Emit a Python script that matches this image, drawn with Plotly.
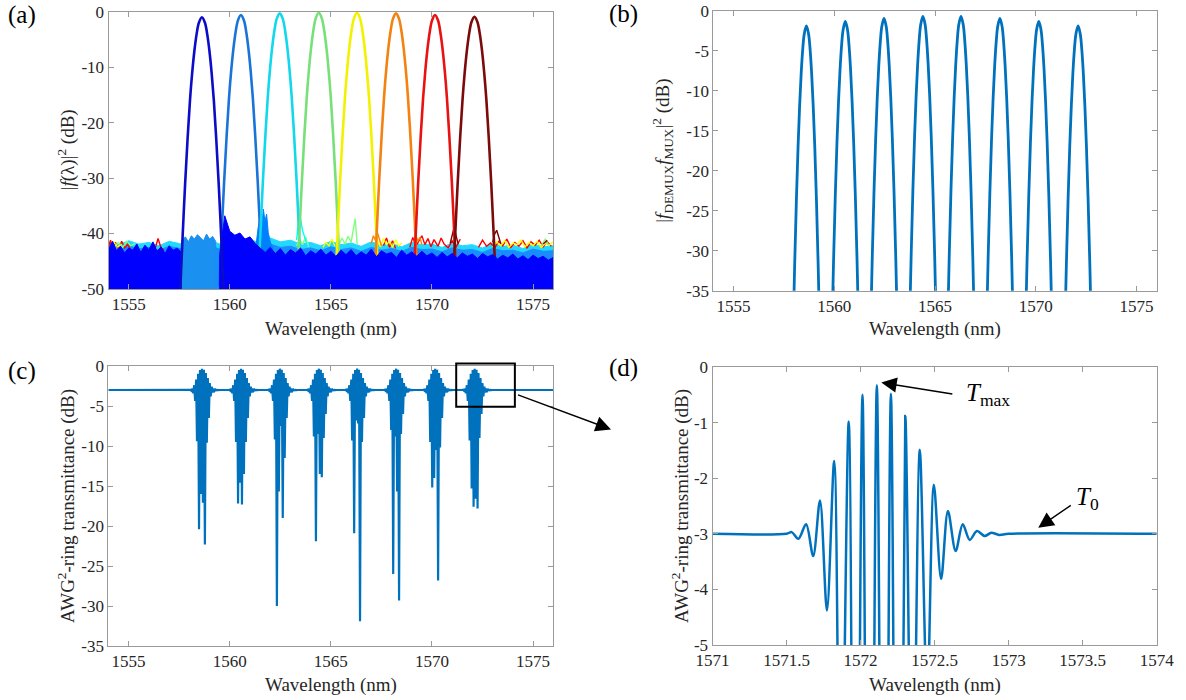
import plotly.graph_objects as go

# ---------------- data ----------------
WL_RANGE = [1554, 1576]
WL_TICKS = [1555, 1560, 1565, 1570, 1575]
ZOOM_RANGE = [1571, 1574]
ZOOM_TICKS = [1571, 1571.5, 1572, 1572.5, 1573, 1573.5, 1574]
A_YTICKS = [0, -10, -20, -30, -40, -50]
BC_YTICKS = [0, -5, -10, -15, -20, -25, -30, -35]
D_YTICKS = [0, -1, -2, -3, -4, -5]

CHANNEL_CENTERS = [1558.62, 1560.55, 1562.47, 1564.40, 1566.29, 1568.22, 1570.15, 1572.10]
JET8 = ['#0000ff', '#0080ff', '#00ffff', '#80ff80', '#ffff00', '#ff8000', '#ff0000', '#800000']
PEAK_LINE_COLORS = ['#0c0cc8', '#1a74d8', '#12d8ec', '#78e078', '#f2f200', '#f48212', '#e81212', '#7c0a0a']

# (a) single-channel spectra (peak tops and common profile: drop below top vs half width)
A_PEAK_TOPS = [-1.0, -0.6, -0.3, -0.2, -0.2, -0.3, -0.6, -0.9]
A_PROFILE_DROP = [0, 1, 3, 6, 10, 15, 22, 30, 40, 49]
A_PROFILE_HALF = [0, 0.15, 0.26, 0.37, 0.48, 0.59, 0.71, 0.83, 0.96, 1.07]

# (a) noise floor
BLUE_LEFT_X = [1554.0, 1554.2, 1554.4, 1554.6, 1554.8, 1555.0, 1555.2, 1555.4, 1555.6, 1555.8,
               1556.0, 1556.2, 1556.4, 1556.6, 1556.8, 1557.0, 1557.2, 1557.4, 1557.6]
BLUE_LEFT_Y = [-42.8, -41.4, -43.1, -42.3, -43.5, -42.6, -43.0, -41.9, -43.4, -42.1,
               -42.9, -41.5, -43.2, -42.4, -43.6, -42.2, -43.0, -42.6, -43.4]
BLUE_RIGHT_X = [1559.50, 1559.75, 1560.00, 1560.25, 1560.50, 1560.75, 1561.00, 1561.25, 1561.50, 1561.75,
                1562.00, 1562.25, 1562.50, 1562.75, 1563.00, 1563.25, 1563.50, 1563.75, 1564.00, 1564.25,
                1564.50, 1564.75, 1565.00, 1565.25, 1565.50, 1565.75, 1566.00, 1566.25, 1566.50, 1566.75,
                1567.00, 1567.25, 1567.50, 1567.75, 1568.00, 1568.25, 1568.50, 1568.75, 1569.00, 1569.25,
                1569.50, 1569.75, 1570.00, 1570.25, 1570.50, 1570.75, 1571.00, 1571.25, 1571.50, 1571.75,
                1572.00, 1572.25, 1572.50, 1572.75, 1573.00, 1573.25, 1573.50, 1573.75, 1574.00, 1574.25,
                1574.50, 1574.75, 1575.00, 1575.25, 1575.50, 1575.75, 1576.00]
BLUE_RIGHT_Y = [-43.8, -36.8, -39.6, -40.3, -39.9, -41.0, -40.6, -41.8, -42.6, -43.4,
                -42.5, -43.6, -42.7, -43.9, -42.9, -43.5, -42.6, -44.0, -43.1, -43.7,
                -42.8, -43.9, -43.2, -44.1, -43.0, -43.8, -42.9, -44.0, -43.3, -43.9,
                -42.8, -44.2, -43.1, -43.7, -43.4, -44.3, -43.0, -43.9, -43.3, -44.1,
                -43.2, -44.0, -43.5, -44.3, -43.4, -44.2, -43.6, -44.4, -43.5, -44.1,
                -43.7, -44.5, -43.6, -44.2, -43.8, -44.6, -43.9, -44.4, -43.7, -44.6,
                -44.0, -44.7, -43.9, -44.5, -44.1, -44.8, -44.3]
AZURE_BLOCK_X = [1557.65, 1557.80, 1557.95, 1558.10, 1558.25, 1558.40, 1558.55, 1558.70, 1558.85, 1559.00, 1559.15, 1559.30]
AZURE_BLOCK_Y = [-41.2, -40.6, -41.5, -40.4, -41.0, -40.2, -40.8, -41.3, -40.1, -41.0, -40.5, -41.4]
FRINGE_X = [1554.0, 1554.5, 1555.0, 1555.5, 1556.0, 1556.5, 1557.0, 1557.5, 1558.0, 1558.5, 1559.0,
            1559.5, 1560.0, 1560.5, 1561.0, 1561.5, 1562.0, 1562.5, 1563.0, 1563.5, 1564.0, 1564.5,
            1565.0, 1565.5, 1566.0, 1566.5, 1567.0, 1567.5, 1568.0, 1568.5, 1569.0, 1569.5, 1570.0,
            1570.5, 1571.0, 1571.5, 1572.0, 1572.5, 1573.0, 1573.5, 1574.0, 1574.5, 1575.0, 1575.5, 1576.0]
CYAN_TOP = [-41.5, -42.0, -41.3, -41.9, -41.6, -42.2, -41.4, -41.8, -42.3, -41.7, -41.2,
            -41.9, -41.5, -42.1, -41.0, -41.8, -40.8, -41.5, -41.2, -41.9, -41.6, -42.2,
            -41.4, -42.0, -41.7, -42.3, -41.5, -42.1, -41.8, -42.4, -41.6, -42.0, -41.9,
            -42.5, -41.7, -42.2, -42.0, -42.6, -41.8, -42.3, -42.1, -42.7, -41.9, -42.4, -42.2]
AZURE_TOP = [-42.4, -42.9, -42.2, -42.8, -42.5, -43.0, -42.3, -42.7, -42.9, -42.4, -42.2,
             -42.8, -42.4, -43.0, -42.1, -42.7, -41.9, -42.5, -42.3, -42.9, -42.6, -43.1,
             -42.4, -42.9, -42.6, -43.2, -42.5, -43.0, -42.7, -43.2, -42.5, -42.9, -42.8,
             -43.3, -42.6, -43.0, -42.9, -43.4, -42.7, -43.1, -43.0, -43.5, -42.8, -43.2, -43.1]
SPIKES = {
    '#ff0000': ([1554.0, 1554.1, 1554.2, 1554.35, 1554.5, 1554.65, 1554.8, 1554.95, 1555.1, None,
                 1556.3, 1556.45, 1556.6, 1556.75, None,
                 1567.6, 1567.75, 1567.9, 1568.05, 1568.2, None,
                 1568.9, 1569.05, 1569.2, 1569.35, 1569.5, 1569.65, 1569.8, 1569.95, 1570.1, 1570.3,
                 1570.45, 1570.6, 1570.8, 1571.0, 1571.2, 1571.4, None,
                 1572.3, 1572.5, 1572.7, 1572.9, 1573.1, 1573.3, 1573.5, 1573.7, 1573.9, 1574.1,
                 1574.3, 1574.5, 1574.7, 1574.9, 1575.1, 1575.3, 1575.5, 1575.7, 1575.9],
                [-42.5, -41.2, -42.8, -41.6, -42.9, -41.4, -42.6, -41.9, -43.0, None,
                 -42.8, -40.9, -42.6, -43.0, None,
                 -42.2, -40.8, -42.5, -41.3, -42.7, None,
                 -42.5, -40.7, -42.3, -41.2, -40.4, -42.0, -40.9, -42.4, -41.1, -42.3,
                 -40.8, -41.9, -42.6, -41.3, -42.4, -41.0, None,
                 -42.5, -41.2, -42.3, -41.7, -42.6, -41.4, -42.2, -41.0, -42.5, -41.6,
                 -42.3, -41.3, -42.6, -41.5, -42.1, -41.2, -42.4, -41.5, -42.3]),
    '#ffff00': ([1554.05, 1554.25, 1554.45, 1554.65, None,
                 1564.6, 1564.75, 1564.9, 1565.05, 1565.2, None,
                 1567.3, 1567.45, 1567.6, 1567.75, 1567.9, 1568.05, 1568.2, 1568.35, 1568.5, None,
                 1573.0, 1573.2, 1573.4, 1573.6, 1573.8, 1574.0, 1574.2, 1574.4, 1574.6, 1574.8,
                 1575.0, 1575.2, 1575.4, 1575.6, 1575.8, 1576.0],
                [-42.6, -41.5, -42.4, -41.9, None,
                 -42.5, -41.6, -42.2, -41.0, -42.3, None,
                 -41.2, -42.4, -40.9, -42.0, -41.4, -42.5, -41.1, -42.2, -41.7, None,
                 -42.4, -41.5, -42.2, -41.3, -42.5, -41.7, -42.0, -41.2, -42.4, -41.6,
                 -42.2, -41.4, -42.5, -41.8, -42.1, -41.5]),
    '#80ff80': ([1554.3, 1554.5, 1554.7, 1554.9, 1555.1, 1555.3, None,
                 1563.3, 1563.45, 1563.6, 1563.75, 1563.9, None,
                 1565.4, 1565.55, 1565.7, 1565.85, 1566.0, 1566.1, 1566.2, 1566.3, None,
                 1575.4, 1575.6, 1575.8],
                [-42.3, -41.6, -42.5, -41.4, -42.2, -41.8, None,
                 -42.2, -41.0, -42.0, -40.6, -42.4, None,
                 -42.0, -40.8, -41.9, -40.5, -41.6, -39.6, -37.3, -42.0, None,
                 -42.2, -41.0, -42.3]),
    '#ff8000': ([1567.0, 1567.1, 1567.2, 1567.3, 1567.4, 1567.5, None,
                 1569.1, 1569.2, 1569.3, 1569.4, 1569.5],
                [-41.8, -40.4, -41.2, -39.8, -41.0, -42.2, None,
                 -41.6, -40.3, -41.4, -40.7, -42.0]),
    '#800000': ([1570.9, 1571.0, 1571.1, 1571.2, 1571.3, None,
                 1573.0, 1573.1, 1573.2, 1573.3, 1573.4, None, 1575.5, 1575.7],
                [-41.8, -40.2, -38.8, -40.5, -41.9, None,
                 -41.6, -40.1, -39.4, -40.6, -41.8, None, -41.9, -41.2]),
    '#00ffff': ([1561.5, 1561.6, 1561.7, 1561.8, None,
                 1563.3, 1563.4, 1563.5, 1563.6, 1563.7, 1563.8],
                [-41.5, -40.2, -41.0, -42.0, None,
                 -41.2, -38.0, -37.4, -39.5, -40.6, -41.8]),
}
AZURE_SPIKE_X = [1561.3, 1561.4, 1561.5, 1561.58, 1561.66, 1561.74, 1561.82, 1561.9, 1562.0, 1562.1]
AZURE_SPIKE_Y = [-42.0, -39.0, -36.8, -38.5, -35.6, -37.8, -36.5, -39.8, -41.5, -42.4]

# (b) DEMUX x MUX responses
B_PEAK_TOPS = [-1.9, -1.35, -0.95, -0.7, -0.7, -0.95, -1.35, -1.9]
B_PROFILE_DROP = [0, 1, 3, 6, 10, 15, 22, 30, 40]
B_PROFILE_HALF = [0, 0.107, 0.185, 0.261, 0.337, 0.413, 0.50, 0.584, 0.674]

# (c)/(d) AWG^2-ring transmittance: ripple extrema read from (d) (channel 8),
# None marks a deep trough whose depth is given per channel below
BASELINE_DB = -3.0
RIPPLE_X = [1571.500, 1571.535, 1571.580, 1571.632, 1571.680, 1571.726, 1571.773, 1571.822,
            1571.865, 1571.920, 1571.965, 1572.013, 1572.060, 1572.110, 1572.158, 1572.205,
            1572.255, 1572.302, 1572.350, 1572.400, 1572.450, 1572.495, 1572.544, 1572.590,
            1572.642, 1572.690, 1572.737, 1572.786, 1572.838, 1572.883, 1572.935, 1573.000]
RIPPLE_Y = [-3.00, -2.97, -3.09, -2.83, -3.40, -2.40, -4.38, -1.69,
            None, -0.98, None, -0.50, None, -0.33, None, -0.48,
            None, -0.88, None, -1.49, None, -2.12, -3.81, -2.59,
            -3.31, -2.83, -3.11, -2.95, -3.04, -2.98, -3.02, -3.00]
C_TROUGHS = [
    [-9.4, -20.4, -16.0, -17.1, -22.3, -9.6, -6.5],
    [-9.5, -17.2, -14.6, -17.3, -13.5, -9.5, -6.5],
    [-9.2, -30.0, -15.7, -7.5, -19.0, -11.5, -6.5],
    [-8.8, -21.9, -8.5, -13.5, -13.9, -9.0, -6.0],
    [-9.3, -20.9, -6.8, -7.2, -31.9, -9.5, -6.5],
    [-8.0, -26.0, -8.8, -15.7, -29.3, -8.5, -6.0],
    [-9.5, -15.2, -14.0, -10.5, -26.8, -10.2, -6.5],
    [-9.3, -15.3, -17.6, -16.6, -17.8, -9.0, -6.0],
]
ZOOM_BOX = [1571.2, 1574.1, -5.1, 0.3]   # rectangle drawn in (c)

# ---------------- layout constants (pixels of the 1186x700 page) ----------------
W, H = 1186, 700
FONT = "Liberation Serif, Times New Roman, Tinos, DejaVu Serif, Noto Serif, serif"
TXT = '#262626'
AXC = '#9a9a9a'
MATLAB_BLUE = '#0072bd'
PANELS = {  # x0, x1, ytop, ybottom in page pixels
    'a': (108.5, 553.3, 11.7, 289.0),
    'b': (713.3, 1156.7, 10.7, 290.7),
    'c': (108.3, 553.3, 366.0, 646.0),
    'd': (712.5, 1156.7, 367.0, 645.0),
}


def px(x):
    return x / W


def py(y):
    return 1 - y / H


def peak_xy(center, top, drops, halves):
    xs = [center - h for h in halves[::-1]] + [center + h for h in halves[1:]]
    ys = [top - d for d in drops[::-1]] + [top - d for d in drops[1:]]
    return xs, ys


def band(xs, ys, floor):
    return [xs[0]] + list(xs) + [xs[-1]], [floor] + list(ys) + [floor]


def burst(shift, troughs):
    xs, ys, k = [], [], 0
    for x, y in zip(RIPPLE_X, RIPPLE_Y):
        xs.append(x + shift)
        if y is None:
            ys.append(troughs[k])
            k += 1
        else:
            ys.append(y)
    return xs, ys


fig = go.Figure()
A_FLOOR = -50


def add(trace, ax):
    trace.update(xaxis='x' if ax == 1 else f'x{ax}', yaxis='y' if ax == 1 else f'y{ax}',
                 showlegend=False, hoverinfo='skip')
    fig.add_trace(trace)


# ----- (a) -----
bx, by = band(FRINGE_X, CYAN_TOP, A_FLOOR)
add(go.Scatter(x=bx, y=by, mode='lines', fill='toself', fillcolor='#22d8ff',
               line=dict(color='#22d8ff', width=1)), 1)
bx, by = band(FRINGE_X, AZURE_TOP, A_FLOOR)
add(go.Scatter(x=bx, y=by, mode='lines', fill='toself', fillcolor='#1a8cff',
               line=dict(color='#1a8cff', width=1)), 1)
for col, (sx, sy) in SPIKES.items():
    add(go.Scatter(x=sx, y=sy, mode='lines', line=dict(color=col, width=1.4)), 1)
bx, by = band(AZURE_SPIKE_X, AZURE_SPIKE_Y, A_FLOOR)
add(go.Scatter(x=bx, y=by, mode='lines', fill='toself', fillcolor=JET8[1],
               line=dict(color=JET8[1], width=1)), 1)
for i in range(1, 8):
    xs, ys = peak_xy(CHANNEL_CENTERS[i], A_PEAK_TOPS[i], A_PROFILE_DROP, A_PROFILE_HALF)
    add(go.Scatter(x=xs, y=ys, mode='lines', line=dict(color=PEAK_LINE_COLORS[i], width=2.6, shape='spline')), 1)
lx, ly = band(BLUE_LEFT_X, BLUE_LEFT_Y, A_FLOOR)
rx, ry = band(BLUE_RIGHT_X, BLUE_RIGHT_Y, A_FLOOR)
add(go.Scatter(x=lx + [None] + rx, y=ly + [None] + ry, mode='lines', fill='toself',
               fillcolor=JET8[0], line=dict(color=JET8[0], width=1)), 1)
bx, by = band(AZURE_BLOCK_X, AZURE_BLOCK_Y, A_FLOOR)
add(go.Scatter(x=bx, y=by, mode='lines', fill='toself', fillcolor='#1a90f0',
               line=dict(color='#1a90f0', width=1)), 1)
xs, ys = peak_xy(CHANNEL_CENTERS[0], A_PEAK_TOPS[0], A_PROFILE_DROP, A_PROFILE_HALF)
add(go.Scatter(x=xs, y=ys, mode='lines', line=dict(color=PEAK_LINE_COLORS[0], width=2.6, shape='spline')), 1)

# ----- (b) -----
bxs, bys = [], []
for c, t in zip(CHANNEL_CENTERS, B_PEAK_TOPS):
    xs, ys = peak_xy(c, t, B_PROFILE_DROP, B_PROFILE_HALF)
    bxs += xs + [None]
    bys += ys + [None]
add(go.Scatter(x=bxs, y=bys, mode='lines', line=dict(color=MATLAB_BLUE, width=2.8, shape='spline')), 2)

# ----- (c) -----
cx, cy = [WL_RANGE[0]], [BASELINE_DB]
for c, tr in zip(CHANNEL_CENTERS, C_TROUGHS):
    xs, ys = burst(c - CHANNEL_CENTERS[7], tr)
    cx += xs
    cy += ys
cx.append(WL_RANGE[1])
cy.append(BASELINE_DB)
add(go.Scatter(x=cx, y=cy, mode='lines', line=dict(color=MATLAB_BLUE, width=2.2)), 3)

# ----- (d) -----
dx, dy = burst(0.0, C_TROUGHS[7])
dx = [ZOOM_RANGE[0]] + dx + [ZOOM_RANGE[1]]
dy = [BASELINE_DB] + dy + [BASELINE_DB]
add(go.Scatter(x=dx, y=dy, mode='lines', line=dict(color=MATLAB_BLUE, width=2.5, shape='spline', smoothing=0.9)), 4)


# ----- axes -----
def common_axis(rng, ticks, anchor):
    return dict(range=rng, anchor=anchor, tickvals=ticks,
                ticktext=[f'{v:g}' for v in ticks], ticks='inside', ticklen=5, tickwidth=1,
                tickcolor=AXC, showline=True, linecolor=AXC, linewidth=1, mirror='ticks',
                showgrid=False, zeroline=False, automargin=False, ticklabeloverflow='allow',
                tickfont=dict(family=FONT, size=17, color=TXT))


def xaxis(key, rng, ticks, anchor):
    x0, x1, yt, yb = PANELS[key]
    d = common_axis(rng, ticks, anchor)
    d['domain'] = [px(x0), px(x1)]
    return d


def yaxis(key, rng, ticks, anchor):
    x0, x1, yt, yb = PANELS[key]
    d = common_axis(rng, ticks, anchor)
    d['domain'] = [py(yb), py(yt)]
    return d


layout = dict(
    width=W, height=H, margin=dict(l=0, r=0, t=0, b=0),
    paper_bgcolor='white', plot_bgcolor='white', showlegend=False,
    font=dict(family=FONT, color=TXT),
    xaxis=xaxis('a', WL_RANGE, WL_TICKS, 'y'),
    yaxis=yaxis('a', [-50, 0], A_YTICKS, 'x'),
    xaxis2=xaxis('b', WL_RANGE, WL_TICKS, 'y2'),
    yaxis2=yaxis('b', [-35, 0], BC_YTICKS, 'x2'),
    xaxis3=xaxis('c', WL_RANGE, WL_TICKS, 'y3'),
    yaxis3=yaxis('c', [-35, 0], BC_YTICKS, 'x3'),
    xaxis4=xaxis('d', ZOOM_RANGE, ZOOM_TICKS, 'y4'),
    yaxis4=yaxis('d', [-5, 0], D_YTICKS, 'x4'),
)
fig.update_layout(**layout)

ann = []
tfont = dict(family=FONT, size=19, color=TXT)
# axis titles
for key, yc in (('a', 328.5), ('b', 328.5), ('c', 685.0), ('d', 685.0)):
    x0, x1, yt, yb = PANELS[key]
    ann.append(dict(text='Wavelength (nm)', x=px((x0 + x1) / 2), y=py(yc), xref='paper', yref='paper',
                    showarrow=False, font=tfont, xanchor='center', yanchor='middle'))
ytitles = [
    ('a', 66, '|<i>f</i>(λ)|<sup>2</sup> (dB)'),
    ('b', 663, '|<i>f</i><sub>DEMUX</sub><i>f</i><sub>MUX</sub>|<sup>2</sup> (dB)'),
    ('c', 66, 'AWG<sup>2</sup>-ring transmittance (dB)'),
    ('d', 680, 'AWG<sup>2</sup>-ring transmittance (dB)'),
]
for key, xc, txt in ytitles:
    x0, x1, yt, yb = PANELS[key]
    ann.append(dict(text=txt, x=px(xc), y=py((yt + yb) / 2), xref='paper', yref='paper', textangle=-90,
                    showarrow=False, font=tfont, xanchor='center', yanchor='middle'))
# panel labels
for lab, xc, yc in (('(a)', 22, 15), ('(b)', 623, 14), ('(c)', 22, 371), ('(d)', 623, 368)):
    ann.append(dict(text=lab, x=px(xc), y=py(yc), xref='paper', yref='paper', showarrow=False,
                    font=dict(family=FONT, size=25, color='black'), xanchor='center', yanchor='middle'))
# arrows and labels in (d)
ARROW = dict(text='', showarrow=True, arrowhead=2, arrowsize=2.2, arrowwidth=1.4, arrowcolor='black')
ann.append(dict(x=1572.14, y=-0.28, ax=1572.63, ay=-0.49, xref='x4', yref='y4', axref='x4', ayref='y4', **ARROW))
ann.append(dict(x=1572.86, y=-0.49, xref='x4', yref='y4', text='<i>T</i><sub>max</sub>', showarrow=False,
                font=dict(family=FONT, size=25, color='black'), xanchor='center', yanchor='middle'))
ann.append(dict(x=1573.2, y=-2.89, ax=1573.43, ay=-2.47, xref='x4', yref='y4', axref='x4', ayref='y4', **ARROW))
ann.append(dict(x=1573.53, y=-2.36, xref='x4', yref='y4', text='<i>T</i><sub>0</sub>', showarrow=False,
                font=dict(family=FONT, size=25, color='black'), xanchor='center', yanchor='middle'))
# arrow from (c) box to (d)
ann.append(dict(x=px(611), y=py(429.4), xref='paper', yref='paper', ax=516.5 - 611, ay=394.4 - 429.4, **ARROW))
fig.update_layout(annotations=ann)

# zoom rectangle in (c)
x0, x1, yt, yb = PANELS['c']


def c_paper(db):
    return py(yb) + (db + 35) / 35 * (py(yt) - py(yb))


fig.add_shape(type='rect', xref='x3', yref='paper', x0=ZOOM_BOX[0], x1=ZOOM_BOX[1],
              y0=c_paper(ZOOM_BOX[2]), y1=c_paper(ZOOM_BOX[3]), line=dict(color='black', width=2))

# the page's default 8px body margin would push the figure off-canvas
fig.write_html('out.html', config={'displayModeBar': False},
               post_script="document.body.style.margin='0px';")
